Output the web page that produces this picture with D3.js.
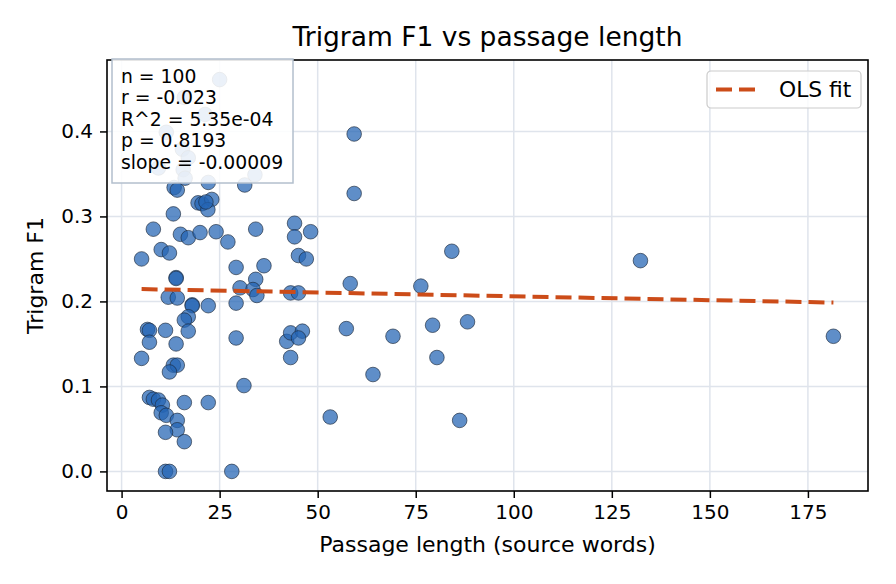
<!DOCTYPE html>
<html>
<head>
<meta charset="utf-8">
<script src="https://cdn.jsdelivr.net/npm/d3@7"></script>
<style>
  body { margin: 0; background: #fff; }
  text { font-family: "DejaVu Sans", sans-serif; fill: #000; }
</style>
</head>
<body>
<div id="chart"></div>
<script>
// passage length (source words) per sample
var passageWords = [
  25.0, 16.0, 21.3, 11.4, 15.5, 17.0, 9.4, 15.7, 34.0, 16.2,
  22.1, 31.4, 13.4, 14.2, 19.5, 20.5, 23.0, 22.0, 13.2, 8.1,
  15.0, 17.0, 20.0, 24.1, 27.1, 34.2, 44.1, 44.1, 48.2, 45.1,
  47.1, 10.1, 12.2, 5.1, 29.2, 36.3, 13.9, 13.9, 34.2, 30.2,
  33.5, 34.5, 43.1, 45.1, 11.9, 14.2, 18.0, 18.0, 22.1, 29.2,
  17.0, 16.0, 6.6, 7.1, 11.2, 17.0, 7.1, 13.9, 29.2, 42.1,
  43.1, 46.1, 45.1, 43.1, 5.1, 13.2, 14.2, 12.2, 31.2, 7.1,
  8.1, 9.4, 10.4, 10.1, 11.4, 16.0, 22.1, 14.2, 14.2, 11.2,
  16.0, 11.2, 12.2, 28.1, 59.3, 59.3, 58.3, 76.3, 84.2, 57.3,
  69.2, 79.3, 88.2, 80.4, 64.1, 53.2, 86.2, 132.3, 181.5, 21.5
];

// trigram F1 per sample
var trigramF1 = [
  0.461, 0.440, 0.420, 0.399, 0.379, 0.369, 0.357, 0.355, 0.349, 0.345,
  0.340, 0.337, 0.334, 0.331, 0.316, 0.315, 0.320, 0.308, 0.303, 0.285,
  0.279, 0.275, 0.281, 0.282, 0.270, 0.285, 0.292, 0.276, 0.282, 0.254,
  0.250, 0.261, 0.257, 0.250, 0.240, 0.242, 0.228, 0.227, 0.226, 0.216,
  0.214, 0.207, 0.210, 0.210, 0.205, 0.204, 0.196, 0.195, 0.195, 0.198,
  0.182, 0.178, 0.167, 0.166, 0.166, 0.165, 0.152, 0.150, 0.157, 0.153,
  0.163, 0.165, 0.157, 0.134, 0.133, 0.125, 0.125, 0.117, 0.101, 0.087,
  0.085, 0.084, 0.078, 0.069, 0.066, 0.081, 0.081, 0.060, 0.049, 0.046,
  0.035, 0.000, 0.000, 0.000, 0.397, 0.327, 0.221, 0.218, 0.259, 0.168,
  0.159, 0.172, 0.176, 0.134, 0.114, 0.064, 0.060, 0.248, 0.159, 0.317
];

var xTicks = [0, 25, 50, 75, 100, 125, 150, 175];
var yTicks = [0.0, 0.1, 0.2, 0.3, 0.4];

var statLines = [
  "n = 100",
  "r = -0.023",
  "R^2 = 5.35e-04",
  "p = 0.8193",
  "slope = -0.00009"
];

// OLS fit as printed in the figure
var fitIntercept = 0.2150;
var fitSlope = -0.00009;

var svgWidth = 896;
var svgHeight = 584;

var margin = {
  top: 60,
  right: 28,
  bottom: 93,
  left: 107
};

var width = svgWidth - margin.left - margin.right;
var height = svgHeight - margin.top - margin.bottom;

var points = passageWords.map(function(d, i) {
  return { x: d, y: trigramF1[i] };
});

var svg = d3
  .select("#chart")
  .append("svg")
  .attr("width", svgWidth)
  .attr("height", svgHeight);

var chartGroup = svg.append("g")
  .attr("transform", `translate(${margin.left}, ${margin.top})`);

// matplotlib style 5% padding
var xExt = d3.extent(passageWords);
var xPad = (xExt[1] - xExt[0]) * 0.05;
var yExt = d3.extent(trigramF1);
var yPad = (yExt[1] - yExt[0]) * 0.05;

var xScale = d3.scaleLinear()
               .domain([xExt[0] - xPad, xExt[1] + xPad])
               .range([0, width]);

var yScale = d3.scaleLinear()
               .domain([yExt[0] - yPad, yExt[1] + yPad])
               .range([height, 0]);

// grid
chartGroup.append("g")
          .selectAll("line")
          .data(xTicks)
          .enter()
          .append("line")
          .attr("x1", d => xScale(d))
          .attr("x2", d => xScale(d))
          .attr("y1", 0)
          .attr("y2", height)
          .attr("stroke", "#dfe4ec")
          .attr("stroke-width", 1.5);

chartGroup.append("g")
          .selectAll("line")
          .data(yTicks)
          .enter()
          .append("line")
          .attr("x1", 0)
          .attr("x2", width)
          .attr("y1", d => yScale(d))
          .attr("y2", d => yScale(d))
          .attr("stroke", "#dfe4ec")
          .attr("stroke-width", 1.5);

// points
chartGroup.append("g")
          .selectAll("circle")
          .data(points)
          .enter()
          .append("circle")
          .attr("cx", d => xScale(d.x))
          .attr("cy", d => yScale(d.y))
          .attr("r", 7.3)
          .attr("fill", "#2364b4")
          .attr("fill-opacity", 0.73)
          .attr("stroke", "#1b2838")
          .attr("stroke-opacity", 0.8)
          .attr("stroke-width", 0.8);

// fit line
var fitX = d3.extent(passageWords);
var line = d3.line()
             .x(d => xScale(d))
             .y(d => yScale(fitIntercept + fitSlope * d));

chartGroup.append("path")
          .datum(fitX)
          .attr("d", line)
          .attr("fill", "none")
          .attr("stroke", "#cc4c19")
          .attr("stroke-width", 4)
          .attr("stroke-dasharray", "16,7");

// axes
var bottomAxis = d3.axisBottom(xScale)
                   .tickValues(xTicks)
                   .tickFormat(d3.format("d"))
                   .tickSize(7)
                   .tickPadding(7);

var leftAxis = d3.axisLeft(yScale)
                 .tickValues(yTicks)
                 .tickFormat(d3.format(".1f"))
                 .tickSize(7)
                 .tickPadding(7);

var xAxis = chartGroup.append("g")
                      .attr("transform", `translate(0, ${height})`)
                      .call(bottomAxis);

var yAxis = chartGroup.append("g")
                      .call(leftAxis);

[xAxis, yAxis].forEach(function(ax) {
  ax.select(".domain").remove();
  ax.selectAll(".tick line").attr("stroke", "#000").attr("stroke-width", 1.5);
  ax.selectAll(".tick text")
    .style("font-family", "DejaVu Sans")
    .style("font-size", "20px")
    .attr("fill", "#000");
});

// frame
chartGroup.append("rect")
          .attr("x", 0)
          .attr("y", 0)
          .attr("width", width)
          .attr("height", height)
          .attr("fill", "none")
          .attr("stroke", "#000")
          .attr("stroke-width", 1.6);

// stats box
var statsGroup = chartGroup.append("g")
                           .attr("transform", "translate(5, -1)");

statsGroup.append("rect")
          .attr("width", 181)
          .attr("height", 124)
          .attr("fill", "#fff")
          .attr("fill-opacity", 0.88)
          .attr("stroke", "#b3bfcd")
          .attr("stroke-width", 1.5);

statsGroup.selectAll("text")
          .data(statLines)
          .enter()
          .append("text")
          .attr("x", 9)
          .attr("y", (d, i) => 23.5 + i * 21.5)
          .style("font-size", "18.8px")
          .text(d => d);

// legend
var legendGroup = chartGroup.append("g")
                            .attr("transform", `translate(${width - 161}, 11)`);

legendGroup.append("rect")
           .attr("width", 154)
           .attr("height", 37)
           .attr("rx", 4)
           .attr("fill", "#fff")
           .attr("fill-opacity", 0.8)
           .attr("stroke", "#cccccc")
           .attr("stroke-width", 1.2);

legendGroup.append("line")
           .attr("x1", 9)
           .attr("x2", 49)
           .attr("y1", 18.5)
           .attr("y2", 18.5)
           .attr("stroke", "#cc4c19")
           .attr("stroke-width", 4)
           .attr("stroke-dasharray", "16,7");

legendGroup.append("text")
           .attr("x", 72)
           .attr("y", 26)
           .style("font-size", "21.8px")
           .text("OLS fit");

// title and axis labels
svg.append("text")
   .attr("x", margin.left + width / 2)
   .attr("y", 46)
   .attr("text-anchor", "middle")
   .style("font-size", "26.5px")
   .text("Trigram F1 vs passage length");

svg.append("text")
   .attr("x", margin.left + width / 2)
   .attr("y", 552)
   .attr("text-anchor", "middle")
   .style("font-size", "22px")
   .text("Passage length (source words)");

svg.append("text")
   .attr("transform", "rotate(-90)")
   .attr("x", -(margin.top + height / 2))
   .attr("y", 43)
   .attr("text-anchor", "middle")
   .style("font-size", "22px")
   .text("Trigram F1");
</script>
</body>
</html>
